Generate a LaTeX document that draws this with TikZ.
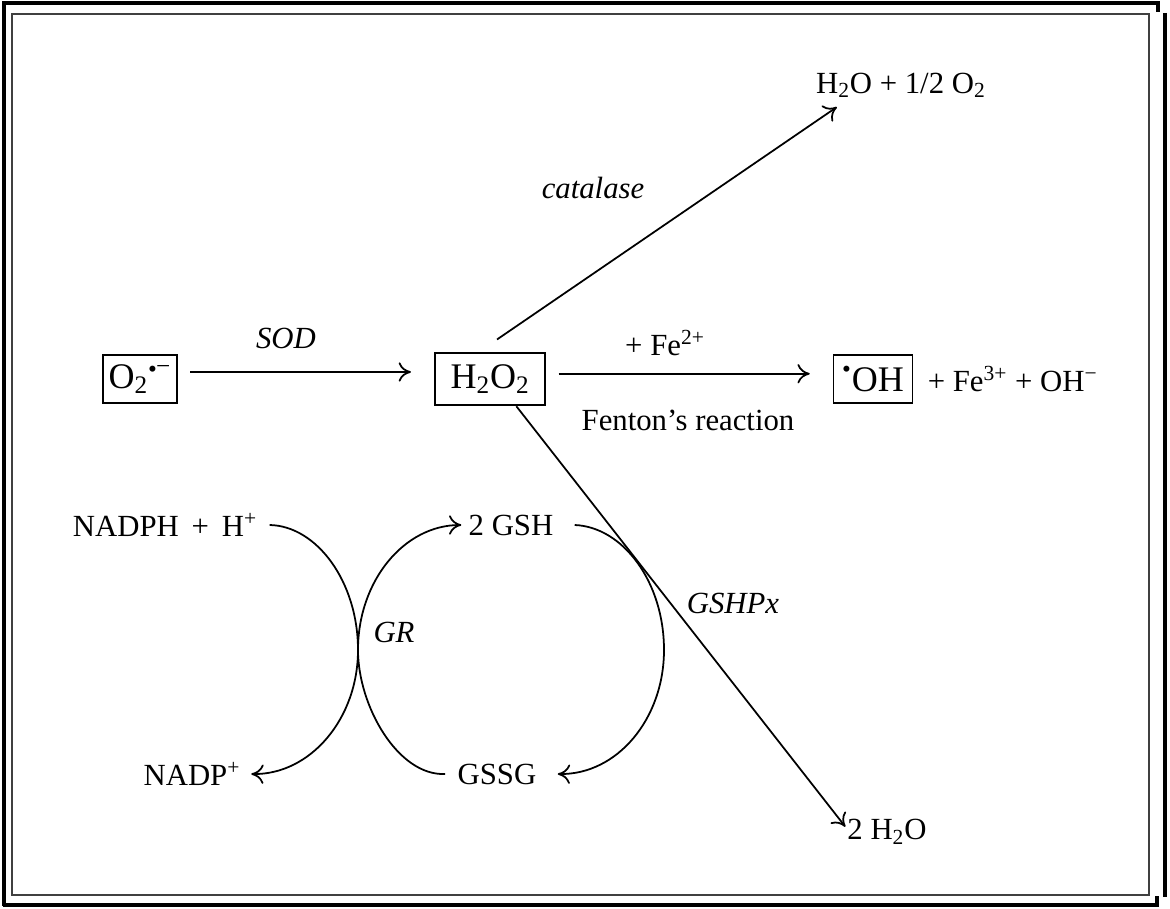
\documentclass[tikz,border=0pt]{standalone}
\usepackage{fontspec}
\setmainfont{Liberation Serif}
\usetikzlibrary{arrows.meta}
\begin{document}
\begin{tikzpicture}[
    x=0.02cm, y=-0.02cm,
    txt/.style={font=\fontsize{17.5}{20}\selectfont, inner sep=1pt},
    lbl/.style={font=\fontsize{17.5}{20}\selectfont\itshape, inner sep=1pt},
    species/.style={draw, line width=1pt, font=\fontsize{20.5}{24}\selectfont, inner sep=0pt, minimum height=27pt},
    arr/.style={-{To[length=7pt,width=11pt]}, line width=1pt}
]
    \useasboundingbox (0,0) rectangle (1170,909);
    % 边框
    \draw[line width=1.8pt] (4,906) -- (4,3) -- (1158,3) -- (1158,12);
    \draw[line width=1.8pt] (3,905) -- (1157,905) -- (1157,896);
    \draw[line width=1.8pt] (1165,13) -- (1165,897);
    \draw[line width=1.4pt, black!75] (12,14) rectangle (1149,895);

    % 物质
    \node[species, minimum width=42pt] (o2) at (140,379) {O\textsubscript{2}\textsuperscript{\raisebox{-0.2ex}{•}\kern-0.5pt−}};
    \node[species, minimum width=63pt, minimum height=30pt] (h2o2) at (490,379) {H\textsubscript{2}O\textsubscript{2}};
    \node[species, minimum width=45pt] (oh) at (873,379) {\textsuperscript{•}OH};
    \node[txt, anchor=base west] (ohrest) at ([xshift=7pt]oh.base east) {+ Fe\textsuperscript{3+} + OH\textsuperscript{−}};
    \node[txt, anchor=base west] (h2ohalf) at (814,93) {H\textsubscript{2}O + 1/2 O\textsubscript{2}};
    \node[txt] (twoh2o) at (887,832) {2 H\textsubscript{2}O};
    \node[txt] (nadph) at (165,525) {NADPH \,+\, H\textsuperscript{+}};
    \node[txt] (gsh) at (511,525) {2 GSH};
    \node[txt] (nadp) at (192,774) {NADP\textsuperscript{+}};
    \node[txt] (gssg) at (497,774) {GSSG};

    % 酶
    \node[lbl] (sod) at (286,338) {SOD};
    \node[lbl] (catalase) at (593,188) {catalase};
    \node[txt] (fe2) at (665,343) {+ Fe\textsuperscript{2+}};
    \node[txt] (fenton) at (688,420) {Fenton’s reaction};
    \node[lbl] (gshpx) at (733,603) {GSHPx};
    \node[lbl] (gr) at (394,632) {GR};
    \coordinate (grpt) at (358,650);
    \coordinate (gsspt) at (664,650);

    % 反应
    \draw[arr] ([xshift=7pt,yshift=4pt]o2.east) -- ([xshift=-13pt,yshift=4pt]h2o2.west);
    \draw[arr] ([xshift=7pt,yshift=3pt]h2o2.east) -- ([xshift=-13pt,yshift=3pt]oh.west);
    \draw[arr] ([xshift=4pt,yshift=7pt]h2o2.north) -- ([xshift=13pt,yshift=-8pt]h2ohalf.base west);
    \draw[arr] ([xshift=15pt]h2o2.south) -- ([yshift=3pt]twoh2o.west);
    \draw[arr] ([xshift=6pt]nadph.east) .. controls (317,526) and (358,582) .. (grpt)
        .. controls (358,719) and (310,775) .. ([xshift=5pt]nadp.east);
    \draw[arr] ([xshift=-6pt]gssg.west) .. controls (398,776) and (358,706) .. (grpt)
        .. controls (358,581) and (404,525) .. ([xshift=-3pt]gsh.west);
    \draw[arr] ([xshift=11pt]gsh.east) .. controls (623,527) and (664,582) .. (gsspt)
        .. controls (664,719) and (617,775) .. ([xshift=11pt]gssg.east);
\end{tikzpicture}
\end{document}
